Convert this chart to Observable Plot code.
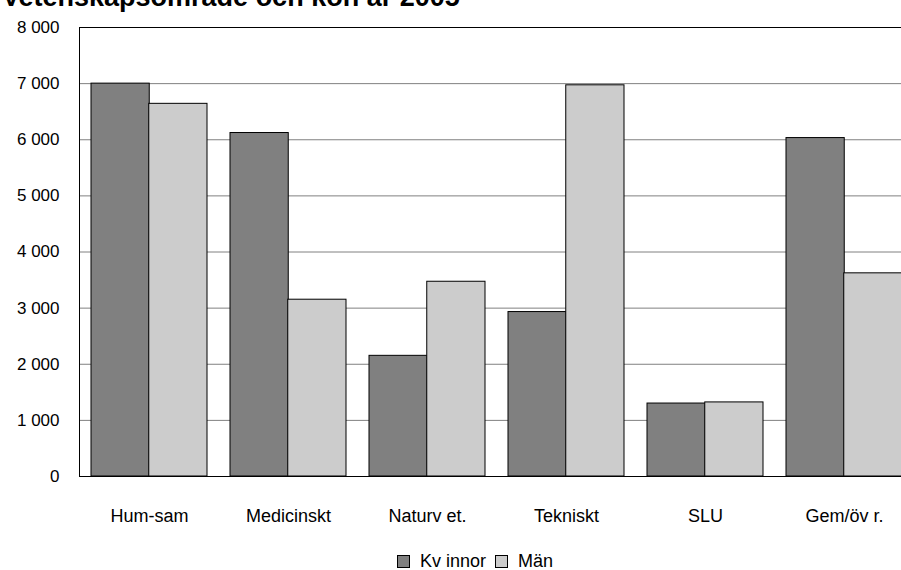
<!DOCTYPE html>
<html>
<head>
<meta charset="utf-8">
<script src="https://cdn.jsdelivr.net/npm/d3@7"></script>
<script src="https://cdn.jsdelivr.net/npm/@observablehq/plot@0.6"></script>
<style>
  html, body { margin: 0; padding: 0; overflow: hidden; background: #fff; width: 901px; height: 570px; }
  #wrap { position: relative; width: 901px; height: 570px; overflow: hidden; }
  #chart { position: absolute; left: 0; top: 0; width: 930px; }
  #chart svg { max-width: none !important; }
  #title { position: absolute; left: 2px; top: -18px; z-index: 2; font: bold 27px "Liberation Sans", Arial, sans-serif; line-height: 31px; white-space: nowrap; color: #000; }
  #legend { position: absolute; left: 397px; top: 551px; z-index: 2; display: flex; align-items: center; font: 18px "Liberation Sans", Arial, sans-serif; line-height: 20px; color: #000; white-space: nowrap; }
  #legend .sw { display: inline-block; width: 13px; height: 13px; border: 1px solid #000; box-sizing: border-box; margin-right: 10px; }
  #legend .item { display: flex; align-items: center; margin-right: 9px; }
</style>
</head>
<body>
<div id="wrap">
  <div id="chart"></div>
  <div id="title">Vetenskapsområde och kön år 2005</div>
  <div id="legend"></div>
</div>
<script>
const categories = ["Hum-sam", "Medicinskt", "Naturv et.", "Tekniskt", "SLU", "Gem/öv r."];
const series = ["Kvinnor", "Män"];
const seriesLabels = ["Kv innor", "Män"];
const kvinnor = [7000, 6120, 2150, 2930, 1300, 6030];
const man = [6640, 3150, 3470, 6970, 1320, 3620];
const yTicks = [0, 1000, 2000, 3000, 4000, 5000, 6000, 7000, 8000];
const colors = ["#808080", "#cccccc"];

const rowsK = categories.map((c, i) => ({category: c, series: series[0], value: kvinnor[i]}));
const rowsM = categories.map((c, i) => ({category: c, series: series[1], value: man[i]}));

const fmt = d => d3.format(",")(d).replace(/,/g, " ");

const bandwidth = 139 * (1 - 0.169);
const half = bandwidth / 2;

const plot = Plot.plot({
  width: 930,
  height: 570,
  marginLeft: 79,
  marginRight: 17,
  marginTop: 27,
  marginBottom: 94,
  style: {fontFamily: "'Liberation Sans', Arial, sans-serif", background: "#fff", maxWidth: "none"},
  x: {domain: categories, paddingInner: 0.169, paddingOuter: 0.0845},
  y: {domain: [0, 8000]},
  color: {domain: series, range: colors},
  marks: [
    Plot.ruleY(yTicks.filter(d => d > 0 && d < 8000), {stroke: "#808080", strokeWidth: 1}),
    Plot.barY(rowsK, {x: "category", y: "value", fill: "series", stroke: "#000", strokeWidth: 1, insetRight: half}),
    Plot.barY(rowsM, {x: "category", y: "value", fill: "series", stroke: "#000", strokeWidth: 1, insetLeft: half}),
    Plot.frame({stroke: "#000", strokeWidth: 1}),
    Plot.axisY({ticks: yTicks, tickFormat: fmt, tickSize: 0, tickPadding: 20, fontSize: 17, label: null, style: {letterSpacing: "0.5px"}}),
    Plot.axisX({tickSize: 0, tickPadding: 33, fontSize: 18, label: null})
  ]
});
document.getElementById("chart").appendChild(plot);

const legend = document.getElementById("legend");
series.forEach((s, i) => {
  const item = document.createElement("span");
  item.className = "item";
  const sw = document.createElement("span");
  sw.className = "sw";
  sw.style.background = colors[i];
  const t = document.createElement("span");
  t.textContent = seriesLabels[i];
  item.appendChild(sw);
  item.appendChild(t);
  legend.appendChild(item);
});
</script>
</body>
</html>
